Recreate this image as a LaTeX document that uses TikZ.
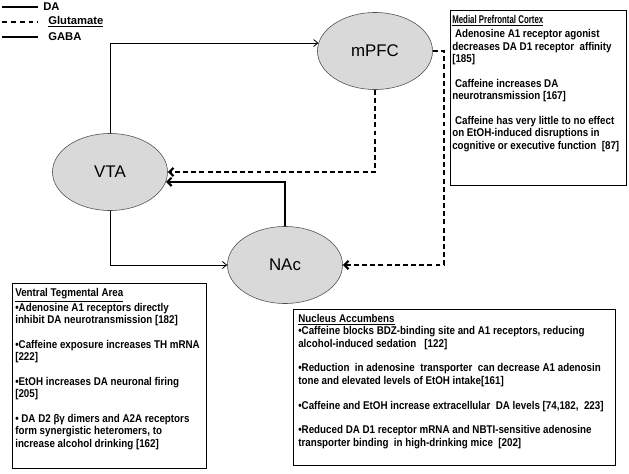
\documentclass[tikz,border=0pt]{standalone}
\usepackage{fontspec}
\setmainfont{Liberation Sans}
\newfontfamily\boxfont[FakeStretch=0.87]{Liberation Sans}
\newfontfamily\narrowfont[FakeStretch=0.7]{Liberation Sans}
\usetikzlibrary{shapes.geometric,arrows.meta,calc}

\begin{document}
\begin{tikzpicture}[x=0.025cm,y=-0.025cm,
    region/.style={ellipse,draw=black!70,fill=black!15,minimum width=2.875cm,minimum height=1.925cm,inner sep=0pt,font=\fontsize{12}{14}\selectfont},
    da/.style={line width=0.6pt,-{Straight Barb[length=3pt,width=5pt]}},
    glu/.style={line width=1.5pt,dash pattern=on 3.5pt off 2.3pt,-{Straight Barb[length=3pt,width=6pt]}},
    gaba/.style={line width=1.5pt,-{Straight Barb[length=3pt,width=6pt]}},
    infobox/.style={draw,line width=0.8pt,anchor=north west,inner sep=0pt},
    infotext/.style={anchor=north west,align=left,inner sep=0pt,font=\boxfont\bfseries\fontsize{8}{8.8}\selectfont},
    legtext/.style={anchor=west,inner sep=0pt,font=\bfseries\fontsize{8}{9}\selectfont}]

    \useasboundingbox (0,0) rectangle (629,473);

    % legend
    \draw[line width=1pt] (2,7) -- (38,7);
    \draw[line width=1pt,dash pattern=on 3.5pt off 2.8pt] (2,22) -- (38,22);
    \draw[line width=1pt] (2,37) -- (38,37);
    \draw (43,7) node[legtext] (legda) {DA};
    \draw (48,22) node[legtext] (legglu) {\underline{Glutamate}};
    \draw (48,37) node[legtext] (leggaba) {GABA};

    % brain regions
    \draw (375,51) node[region] (mPFC) {mPFC};
    \draw (110,172) node[region] (VTA) {VTA};
    \draw (285,265) node[region] (NAc) {NAc};

    \draw[da] (VTA.north) |- (mPFC.172);
    \draw[da] (VTA.south) |- (NAc.west);
    \draw[gaba] (NAc.north) |- (VTA.-10);
    \draw[glu] (mPFC.south) |- (VTA.east);
    \draw[glu] (mPFC.east) -- ++(11,0) |- (NAc.east);

    % text boxes
    \draw (450,10) node[infobox,minimum width=4.4cm,minimum height=4.375cm] (pfcbox) {};
    \draw ($(pfcbox.north west)+(2,5)$) node[infotext] (pfctext) {%
        {\narrowfont\bfseries\underline{Medial Prefrontal Cortex}}\\[1.5pt]
        \ Adenosine A1 receptor agonist\\
        decreases DA D1 receptor\ \ affinity\\
        {[185]}\\[8.8pt]
        \ Caffeine increases DA\\
        neurotransmission [167]\\[8.8pt]
        \ Caffeine has very little to no effect\\
        on EtOH-induced disruptions in\\
        cognitive or executive function\ \ [87]};

    \draw (12,283) node[infobox,minimum width=4.85cm,minimum height=4.625cm] (vtabox) {};
    \draw ($(vtabox.north west)+(3,5)$) node[infotext] (vtatext) {%
        \underline{Ventral Tegmental Area}\\
        •Adenosine A1 receptors directly\\
        inhibit DA neurotransmission [182]\\[8.8pt]
        •Caffeine exposure increases TH mRNA\\
        {[222]}\\[8.8pt]
        •EtOH increases DA neuronal firing\\
        {[205]}\\[8.8pt]
        • DA D2 βγ dimers and A2A receptors\\
        form synergistic heteromers, to\\
        increase alcohol drinking [162]};

    \draw (293,309) node[infobox,minimum width=8.05cm,minimum height=3.9cm] (nacbox) {};
    \draw ($(nacbox.north west)+(5,5)$) node[infotext] (nactext) {%
        \underline{Nucleus Accumbens}\\
        •Caffeine blocks BDZ-binding site and A1 receptors, reducing\\
        alcohol-induced sedation\ \ \ [122]\\[8.8pt]
        •Reduction\ \ in adenosine\ \ transporter\ \ can decrease A1 adenosin\\
        tone and elevated levels of EtOH intake[161]\\[8.8pt]
        •Caffeine and EtOH increase extracellular\ \ DA levels [74,182,\ \ 223]\\[8.8pt]
        •Reduced DA D1 receptor mRNA and NBTI-sensitive adenosine\\
        transporter binding\ \ in high-drinking mice\ \ [202]};
\end{tikzpicture}
\end{document}
